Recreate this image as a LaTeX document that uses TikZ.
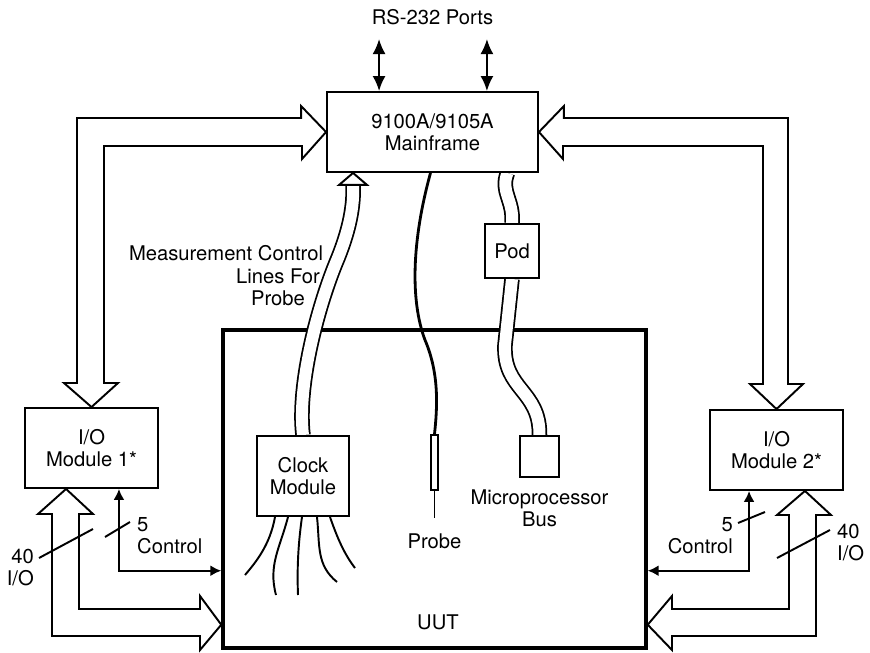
\documentclass[tikz,border=0pt]{standalone}
\usepackage{fontspec}
\setmainfont{TeX Gyre Heros}
\usetikzlibrary{positioning, arrows.meta, calc, backgrounds}
\tikzset{
  >={Latex[length=0.22cm, width=0.22cm]}, % filled heads for the single lines
  box/.style={draw, fill=white, line width=1.1pt, inner sep=0pt, align=center}, % the plain boxes
  bus/.style={draw, fill=white, line width=1.1pt, line join=miter}, % the wide hollow arrows
  cable/.style={line width=1pt, double=white, double distance=0.24cm}, % two-wire cables
  wire/.style={line width=1.1pt}, % single lines
  every node/.style={font=\fontsize{11.5}{12.5}\selectfont},
}
\begin{document}
\begin{tikzpicture}[x=0.02cm, y=-0.02cm]
    \useasboundingbox (0,0) rectangle (870,653);

    \node[box, minimum width=4.22cm, minimum height=1.6cm] (mf) at (432.5,132) {9100A/9105A\\Mainframe};
    \node[box, minimum width=2.66cm, minimum height=1.6cm] (io1) at (91.5,448) {I/O\\Module 1*};
    \node[box, minimum width=2.66cm, minimum height=1.6cm] (io2) at (776.5,450) {I/O\\Module 2*};
    \node[box, minimum width=1.84cm, minimum height=1.6cm] (clk) at (303,476) {Clock\\Module};
    \node[box, minimum size=1.08cm] (pod) at (512,251) {Pod};
    \node[box, minimum width=0.78cm, minimum height=0.82cm] (mpb) at (539.5,456.5) {};
    \node[box, line width=0.8pt, minimum width=0.14cm, minimum height=1.1cm] (probe) at (434.5,462.5) {};
    \coordinate (mtip) at ($(mf.south west)+(27,0)$);

    \begin{scope}[on background layer]
        \node[draw, line width=2pt, minimum width=8.46cm, minimum height=6.36cm] (uut) at (434.5,489) {};
        % measurement control lines
        \draw[cable] (clk.north) .. controls (297,385) and (318,305) .. (338,258)
                                 .. controls (350,228) and (354,205) .. ($(mtip)+(0,12)$);
        % pod cables
        \draw[cable] ($(mf.south)+(75,0)$) .. controls (500,192) and (514,200) .. (pod.north);
        \draw[cable] (pod.south) -- (505,345) .. controls (503,390) and (540,390) .. (mpb.north);
        % probe lead
        \draw[line width=1.6pt] ($(mf.south)+(-2,0)$) .. controls (412,240) and (410,300) .. (425,340)
                                .. controls (440,375) and (437,410) .. (probe.north);
    \end{scope}

    \draw[bus] (mtip) -- ++(-14,12) -- ++(28,0) -- cycle;
    \draw[wire] (probe.south) -- ++(0,27) coordinate (ptip);

    % clock lines
    \draw[wire] ($(clk.south)+(-28,0)$) .. controls (270,545) and (256,562) .. (245,575);
    \draw[wire] ($(clk.south)+(-15,0)$) .. controls (280,548) and (268,565) .. (276,595);
    \draw[wire] ($(clk.south)+(-1,0)$) .. controls (298,545) and (297,570) .. (298,595);
    \draw[wire] ($(clk.south)+(14,0)$) .. controls (320,545) and (316,565) .. (337,582);
    \draw[wire] ($(clk.south)+(27,0)$) .. controls (338,540) and (345,555) .. (355,568);

    % buses
    \draw[bus] (mf.west) -- ++(-25,-26) -- ++(0,12) -- (77,118) -- (77,383) -- (64,383) -- (io1.north)
               -- (118,383) -- (104,383) -- (104,146) -- (302,146) -- (302,159) -- cycle;
    \draw[bus] (mf.east) -- ++(25,-26) -- ++(0,12) -- (788,118) -- (788,384) -- (803,384) -- (io2.north)
               -- (750,384) -- (763,384) -- (763,146) -- (563,146) -- (563,159) -- cycle;
    \draw[bus] ($(io1.south west)+(42,0)$) -- (93,514) -- (79,514) -- (79,609) -- (200,609) -- (200,596)
               -- ($(uut.south west)+(0,-25)$) -- (200,650) -- (200,636) -- (52,636) -- (52,514) -- (38,514) -- cycle;
    \draw[bus] ($(io2.south east)+(-39,0)$) -- (831,515) -- (816,515) -- (816,636) -- (672,636) -- (672,650)
               -- ($(uut.south east)+(0,-25)$) -- (672,596) -- (672,609) -- (789,609) -- (789,515) -- (777,515) -- cycle;

    % control lines
    \draw[wire, <->] ($(io1.south east)+(-40,0)$) |- ($(uut.south west)+(0,-79)$);
    \draw[wire, <->] ($(io2.south west)+(40,0)$) |- ($(uut.south east)+(0,-79)$);

    % RS-232
    \draw[wire, <->, >={Latex[length=0.3cm, width=0.26cm]}] ($(mf.north west)+(53,0)$) -- ++(0,-52);
    \draw[wire, <->, >={Latex[length=0.3cm, width=0.26cm]}] ($(mf.north east)+(-52,0)$) -- ++(0,-52);

    % line counts
    \draw[wire] (39,558) -- (93,529);
    \draw[wire] (105,537) -- (130,522);
    \draw[wire] (738,523) -- (765,512);
    \draw[wire] (777,558) -- (830,530);

    \node (rs) [above=1.2cm of mf] {RS-232 Ports};
    \node (mclab) at (226,253) {Measurement Control};
    \node[align=center] (mclab2) at (278,287) {Lines For\\Probe};
    \node (plab) [below=0.2cm of ptip] {Probe};
    \node (mplab) [below=0.12cm of mpb, align=center] {Microprocessor\\Bus};
    \node (uutlab) at (438,622) {UUT};
    \node[anchor=west, align=left] (c1lab) at (131,536) {5\\Control};
    \node[anchor=east, align=right] (c2lab) at (739,536) {5\\Control};
    \node[anchor=east, align=right] (d1lab) at (40,568) {40\\I/O};
    \node[anchor=west, align=left] (d2lab) at (831,543) {40\\I/O};
\end{tikzpicture}
\end{document}
